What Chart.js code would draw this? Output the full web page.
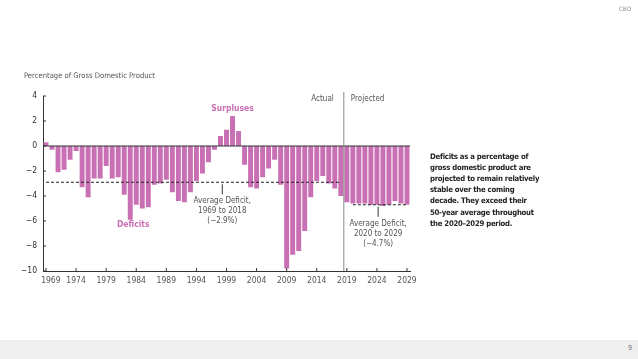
<!DOCTYPE html>
<html>
<head>
<meta charset="utf-8">
<script src="https://cdn.jsdelivr.net/npm/chart.js@4.4.1/dist/chart.umd.min.js"></script>
<style>
  html, body { margin: 0; padding: 0; background: #fff; }
  body { width: 638px; height: 359px; position: relative; overflow: hidden; font-family: 'Liberation Sans Narrow', 'DejaVu Sans Condensed', sans-serif; }
  #wrap { position: absolute; left: 0; top: 0; width: 638px; height: 359px; }
  .abs { position: absolute; white-space: nowrap; }
  #ytitle { left: 24px; top: 71px; font-size: 7.6px; color: #555; }
  #note { left: 430px; top: 150.5px; font-size: 7.7px; font-weight: bold; color: #222; line-height: 11.2px; letter-spacing: -0.25px; }
  #cbo { left: 619px; top: 5px; font-size: 6px; color: #888; letter-spacing: 0.3px; }
  #footer { position: absolute; left: 0; top: 340px; width: 638px; height: 19px; background: #efefef; }
  #pgno { right: 6px; top: 344px; font-size: 7px; color: #777; }
</style>
</head>
<body>
<div id="wrap"><canvas id="deficit-chart"></canvas></div>
<div id="ytitle" class="abs">Percentage of Gross Domestic Product</div>
<div id="note" class="abs">Deficits as a percentage of<br>gross domestic product are<br>projected to remain relatively<br>stable over the coming<br>decade. They exceed their<br>50-year average throughout<br>the 2020–2029 period.</div>
<div id="cbo" class="abs">CBO</div>
<div id="footer"></div>
<div id="pgno" class="abs">9</div>

<script>
// ---- data ----
const years = [
  1969, 1970, 1971, 1972, 1973, 1974, 1975, 1976, 1977, 1978,
  1979, 1980, 1981, 1982, 1983, 1984, 1985, 1986, 1987, 1988,
  1989, 1990, 1991, 1992, 1993, 1994, 1995, 1996, 1997, 1998,
  1999, 2000, 2001, 2002, 2003, 2004, 2005, 2006, 2007, 2008,
  2009, 2010, 2011, 2012, 2013, 2014, 2015, 2016, 2017, 2018,
  2019, 2020, 2021, 2022, 2023, 2024, 2025, 2026, 2027, 2028, 2029
];
const deficits = [
   0.3, -0.3, -2.1, -1.9, -1.1, -0.4, -3.3, -4.1, -2.6, -2.6,
  -1.6, -2.6, -2.5, -3.9, -5.9, -4.7, -5.0, -4.9, -3.1, -3.0,
  -2.7, -3.7, -4.4, -4.5, -3.7, -2.8, -2.2, -1.3, -0.3,  0.8,
   1.3,  2.4,  1.2, -1.5, -3.3, -3.4, -2.5, -1.8, -1.1, -3.1,
  -9.8, -8.7, -8.4, -6.8, -4.1, -2.8, -2.4, -3.0, -3.4, -4.0,
  -4.5, -4.6, -4.6, -4.6, -4.7, -4.7, -4.8, -4.7, -4.4, -4.6, -4.7
];
const yTicks = [4, 2, 0, -2, -4, -6, -8, -10];
const avgPast = -2.9;     // 1969 to 2018
const avgFuture = -4.7;   // 2020 to 2029
const lastActualYear = 2018;

const PINK = '#c970b4';
const AXIS = '#333333';
const GREY_TEXT = '#555555';
const FONT = "'Liberation Sans Narrow', 'DejaVu Sans Condensed', sans-serif";

// draws averages, zero line, inner ticks and labels on top of the bars
const overlayPlugin = {
  id: 'overlay',
  afterDatasetsDraw(chart) {
    const { ctx, chartArea: a, scales: { x, y } } = chart;
    const px = yr => x.getPixelForValue(years.indexOf(yr));
    ctx.save();

    // zero line
    ctx.strokeStyle = AXIS;
    ctx.lineWidth = 1.2;
    ctx.beginPath();
    ctx.moveTo(a.left, y.getPixelForValue(0));
    ctx.lineTo(a.right, y.getPixelForValue(0));
    ctx.stroke();

    // inner tick marks
    ctx.lineWidth = 1;
    ctx.beginPath();
    years.forEach((yr, i) => {
      if (i % 5 !== 0) return;
      ctx.moveTo(px(yr), a.bottom);
      ctx.lineTo(px(yr), a.bottom - 3);
    });
    yTicks.forEach(v => {
      ctx.moveTo(a.left, y.getPixelForValue(v));
      ctx.lineTo(a.left + 3, y.getPixelForValue(v));
    });
    ctx.stroke();

    // average lines
    ctx.setLineDash([3, 2]);
    ctx.strokeStyle = '#222';
    ctx.beginPath();
    ctx.moveTo(px(1969), y.getPixelForValue(avgPast));
    ctx.lineTo(px(2018), y.getPixelForValue(avgPast));
    ctx.moveTo(px(2020), y.getPixelForValue(avgFuture));
    ctx.lineTo(px(2029), y.getPixelForValue(avgFuture));
    ctx.stroke();
    ctx.setLineDash([]);

    // actual / projected divider
    const divX = (px(lastActualYear) + px(lastActualYear + 1)) / 2;
    ctx.strokeStyle = '#888';
    ctx.beginPath();
    ctx.moveTo(divX, a.top - 4);
    ctx.lineTo(divX, a.bottom);
    ctx.stroke();

    ctx.font = '8px ' + FONT;
    ctx.fillStyle = GREY_TEXT;
    ctx.textBaseline = 'middle';
    ctx.textAlign = 'right';
    ctx.fillText('Actual', divX - 10, a.top + 3);
    ctx.textAlign = 'left';
    ctx.fillText('Projected', divX + 7, a.top + 3);

    // average annotations
    function note(cx, yVal, lines) {
      const y0 = y.getPixelForValue(yVal);
      ctx.strokeStyle = '#333';
      ctx.beginPath();
      ctx.moveTo(cx, y0 + 2);
      ctx.lineTo(cx, y0 + 12);
      ctx.stroke();
      ctx.textAlign = 'center';
      ctx.fillStyle = GREY_TEXT;
      lines.forEach((t, i) => ctx.fillText(t, cx, y0 + 19 + i * 10));
    }
    const cell = x.getPixelForValue(1) - x.getPixelForValue(0);
    note(px(1998) + cell * 0.3, avgPast, ['Average Deficit,', '1969 to 2018', '(\u22122.9%)']);
    note(px(2024) + cell * 0.2, avgFuture, ['Average Deficit,', '2020 to 2029', '(\u22124.7%)']);

    // series labels
    ctx.font = 'bold 8.5px ' + FONT;
    ctx.fillStyle = PINK;
    ctx.textAlign = 'center';
    ctx.fillText('Surpluses', px(2000), y.getPixelForValue(2.95));
    ctx.fillText('Deficits', px(1983) + cell * 0.5, y.getPixelForValue(-6.3));

    ctx.restore();
  }
};

new Chart(document.getElementById('deficit-chart'), {
  type: 'bar',
  data: {
    labels: years.map(String),
    datasets: [{
      data: deficits,
      backgroundColor: PINK,
      borderWidth: 0,
      barPercentage: 0.82,
      categoryPercentage: 1.0
    }]
  },
  options: {
    responsive: true,
    maintainAspectRatio: false,
    animation: false,
    layout: { padding: { left: 0, top: 96, right: 228, bottom: 68 } },
    plugins: { legend: { display: false }, tooltip: { enabled: false } },
    scales: {
      x: {
        grid: { display: false, drawTicks: false },
        border: { color: AXIS, width: 1 },
        afterFit(scale) { scale.height = 20; },
        ticks: {
          autoSkip: false,
          maxRotation: 0,
          padding: 5,
          color: GREY_TEXT,
          font: { family: FONT, size: 8.5 },
          // first label sits to the right of the axis, as in the original
          callback(val, i) { return i === 0 ? '    ' + years[i] : (i % 5 === 0 ? years[i] : ''); }
        }
      },
      y: {
        min: -10,
        max: 4,
        grid: { display: false, drawTicks: false },
        border: { color: AXIS, width: 1 },
        afterFit(scale) { scale.width = 43; },
        ticks: {
          stepSize: 2,
          padding: 6,
          color: '#333',
          font: { family: FONT, size: 8.5 },
          callback(v) { return String(v).replace('-', '\u2212'); }
        }
      }
    }
  },
  plugins: [overlayPlugin]
});
</script>
</body>
</html>
